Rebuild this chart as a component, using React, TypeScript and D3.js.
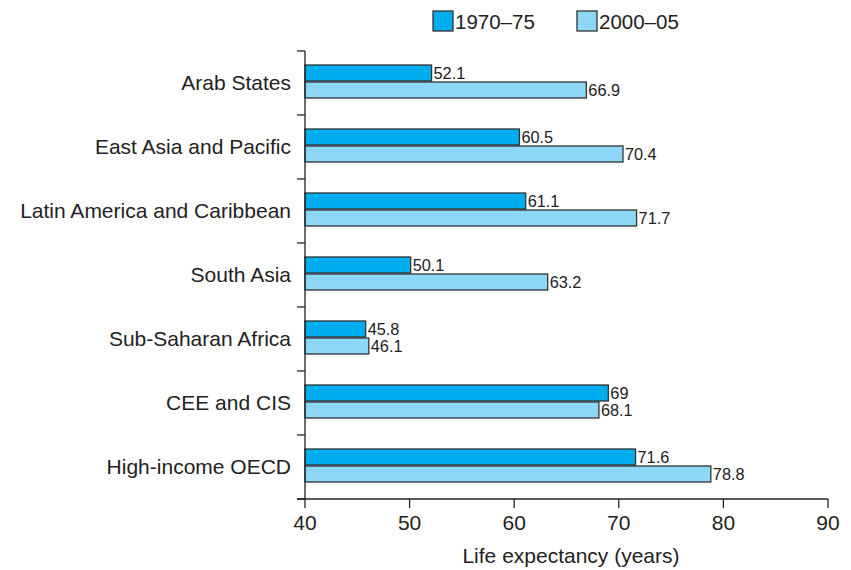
import React from "react";
import * as d3 from "d3";

const categories = [
  "Arab States",
  "East Asia and Pacific",
  "Latin America and Caribbean",
  "South Asia",
  "Sub-Saharan Africa",
  "CEE and CIS",
  "High-income OECD",
];
const series1970 = [52.1, 60.5, 61.1, 50.1, 45.8, 69, 71.6];
const series2000 = [66.9, 70.4, 71.7, 63.2, 46.1, 68.1, 78.8];
const seriesNames = ["1970–75", "2000–05"];
const xTicks = [40, 50, 60, 70, 80, 90];
const xTitle = "Life expectancy (years)";

const colors = ["#00aeef", "#8dd8f7"];
const font = "'Liberation Sans', Arial, sans-serif";

export default function App() {
  const W = 851, H = 570;
  const left = 305, right = 828, top = 51, bottom = 499;
  const x = d3.scaleLinear().domain([40, 90]).range([left, right]);
  const y = d3.scaleBand().domain(categories).range([top, bottom]);
  const bw = y.bandwidth();
  const barH = 16;
  const bounds = d3.range(categories.length + 1).map((i) => top + i * bw);

  return (
    <svg width={W} height={H} style={{ position: "absolute", left: 0, top: 0, background: "#fff" }} fontFamily={font}>
      {/* legend */}
      {seriesNames.map((n, i) => {
        const lx = i === 0 ? 433 : 577;
        return (
          <g key={n}>
            <rect x={lx} y={11} width={20} height={20} fill={colors[i]} stroke="#333" strokeWidth={1.3} />
            <text x={lx + 22} y={28.5} fontSize={20.5} fill="#222">{n}</text>
          </g>
        );
      })}
      {/* bars */}
      {categories.map((c, i) => {
        const y0 = (y(c) as number) + 14;
        const vals = [series1970[i], series2000[i]];
        return (
          <g key={c}>
            {vals.map((v, j) => (
              <g key={j}>
                <rect
                  x={x(40)}
                  y={y0 + j * (barH + 1)}
                  width={x(v) - x(40)}
                  height={barH}
                  fill={colors[j]}
                  stroke="#333"
                  strokeWidth={1.3}
                />
                <text x={x(v) + 2} y={y0 + j * (barH + 1) + 13.5} fontSize={16.3} fill="#222">
                  {String(v)}
                </text>
              </g>
            ))}
            <text x={291} y={(y(c) as number) + bw / 2 + 6.5} fontSize={21} textAnchor="end" fill="#222">
              {c}
            </text>
          </g>
        );
      })}
      {/* y axis */}
      <line x1={left} x2={left} y1={top} y2={bottom} stroke="#222" strokeWidth={1.3} />
      {bounds.map((b, i) => (
        <line key={i} x1={left - 8} x2={left} y1={b} y2={b} stroke="#222" strokeWidth={1.3} />
      ))}
      {/* x axis */}
      <line x1={left - 8} x2={right} y1={bottom} y2={bottom} stroke="#222" strokeWidth={1.3} />
      {xTicks.map((t) => (
        <g key={t}>
          <line x1={x(t)} x2={x(t)} y1={bottom} y2={bottom + 9} stroke="#222" strokeWidth={1.3} />
          <text x={x(t)} y={bottom + 31} fontSize={21} textAnchor="middle" fill="#222">{t}</text>
        </g>
      ))}
      <text x={571} y={563} fontSize={21} textAnchor="middle" fill="#222">{xTitle}</text>
    </svg>
  );
}
